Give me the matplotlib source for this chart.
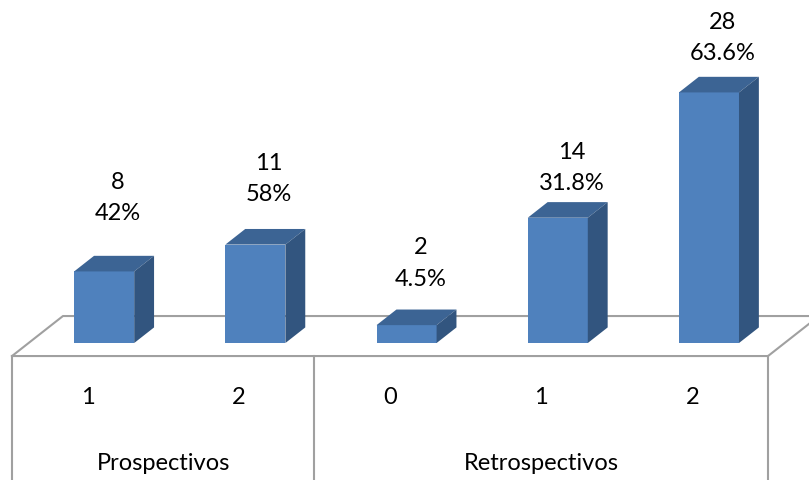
import numpy as np
import matplotlib.pyplot as plt
from matplotlib.patches import Polygon

plt.rcParams['font.family'] = ['Lato', 'DejaVu Sans']

# data
groups = ['Prospectivos', 'Retrospectivos']
group_sizes = [2, 3]
ticks = ['1', '2', '0', '1', '2']
counts = [8, 11, 2, 14, 28]
percents = ['42%', '58%', '4.5%', '31.8%', '63.6%']

# label lift above each bar top (pixels)
label_lift = [59, 51, 47, 35, 40]

# 3d look: depth vector of the floor in data units, bar spans part of it
Dx, Dy = 0.337, 4.47
f0, f1 = 0.325, 0.715
bw = 0.397

c_front = '#4f81bd'
c_top = '#3c6494'
c_side = '#32557f'
c_line = '#a0a0a0'
fs = 17

fig = plt.figure(figsize=(8.09, 4.81), dpi=100)
ax = fig.add_axes([0, 0, 1, 1])
ax.set_xlim(-0.0794, 5.271)
ax.set_ylim(-13.85, 39.89)
ax.axis('off')

n = len(counts)

# floor
ax.plot([0, Dx, n + Dx], [0, Dy, Dy], color=c_line, lw=1.5, zorder=1)
ax.plot([0, n, n + Dx], [0, 0, Dy], color=c_line, lw=1.5, zorder=1)

# group separators below the floor
edges = np.concatenate([[0], np.cumsum(group_sizes)])
for e in edges:
    ax.plot([e, e], [0, -14], color=c_line, lw=1.5, zorder=1)

# bars
for i, v in enumerate(counts):
    xc = i + 0.5
    x0 = xc - bw / 2 + f0 * Dx
    x1 = xc + bw / 2 + f0 * Dx
    y0 = f0 * Dy
    ddx = (f1 - f0) * Dx
    ddy = (f1 - f0) * Dy
    front = [(x0, y0), (x1, y0), (x1, y0 + v), (x0, y0 + v)]
    top = [(x0, y0 + v), (x1, y0 + v), (x1 + ddx, y0 + v + ddy), (x0 + ddx, y0 + v + ddy)]
    side = [(x1, y0), (x1 + ddx, y0 + ddy), (x1 + ddx, y0 + v + ddy), (x1, y0 + v)]
    ax.add_patch(Polygon(front, closed=True, facecolor=c_front, edgecolor='none', zorder=3))
    ax.add_patch(Polygon(top, closed=True, facecolor=c_top, edgecolor='none', zorder=3))
    ax.add_patch(Polygon(side, closed=True, facecolor=c_side, edgecolor='none', zorder=3))

    ax.annotate('%d\n%s' % (v, percents[i]), xy=(xc + 0.2, y0 + v + ddy),
                xytext=(0, label_lift[i]), textcoords='offset pixels',
                ha='center', va='center', fontsize=fs, linespacing=1.6)

    ax.text(xc, -4.47, ticks[i], ha='center', va='center', fontsize=fs)

for g, name in enumerate(groups):
    ax.text((edges[g] + edges[g + 1]) / 2, -11.84, name, ha='center', va='center', fontsize=fs)

plt.savefig('out.png', dpi=100)
